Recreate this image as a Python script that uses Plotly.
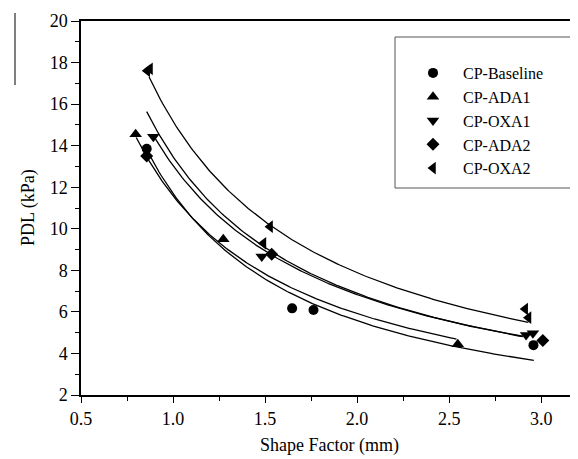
import numpy as np
import plotly.graph_objects as go

# ---------------- data ----------------
series_names = ["CP-Baseline", "CP-ADA1", "CP-OXA1", "CP-ADA2", "CP-OXA2"]
series_symbols = ["circle", "triangle-up", "triangle-down", "diamond", "triangle-left"]

baseline_x = [0.857, 1.647, 1.763, 2.958]
baseline_y = [13.85, 6.17, 6.09, 4.40]

ada1_x = [0.797, 1.273, 2.547]
ada1_y = [14.55, 9.49, 4.44]

oxa1_x = [0.893, 1.482, 2.918, 2.955]
oxa1_y = [14.43, 8.66, 4.89, 4.97]

ada2_x = [0.857, 1.536, 3.009]
ada2_y = [13.50, 8.77, 4.62]

oxa2_x = [0.860, 0.875, 1.491, 1.527, 2.913, 2.931]
oxa2_y = [17.60, 17.70, 9.30, 10.10, 6.14, 5.72]

# power-law fit curves  y = a * x^b  (parameters)
fit_a = [11.70, 11.59, 13.04, 13.47, 15.17]
fit_b = [-1.070, -0.970, -0.933, -0.968, -0.944]
fit_xmin = [0.86, 0.80, 0.90, 0.857, 0.87]
fit_xmax = [2.96, 2.54, 2.90, 2.90, 2.93]

x_ticks = [0.5, 1.0, 1.5, 2.0, 2.5, 3.0]
y_ticks = [2, 4, 6, 8, 10, 12, 14, 16, 18, 20]

xs = [baseline_x, ada1_x, oxa1_x, ada2_x, oxa2_x]
ys = [baseline_y, ada1_y, oxa1_y, ada2_y, oxa2_y]

FONT = "Liberation Serif"

fig = go.Figure()

# fit lines
for a, b, x0, x1 in zip(fit_a, fit_b, fit_xmin, fit_xmax):
    xx = np.linspace(x0, x1, 200)
    fig.add_trace(go.Scatter(x=xx, y=a * xx ** b, mode="lines",
                             line=dict(color="black", width=1.3),
                             showlegend=False, hoverinfo="skip"))

# markers
for name, sym, x, y in zip(series_names, series_symbols, xs, ys):
    size = 10 if sym in ("circle", "diamond") else 11
    fig.add_trace(go.Scatter(x=x, y=y, mode="markers", name=name,
                             marker=dict(symbol=sym, size=size, color="black",
                                         line=dict(width=0))))

# page has an 8px body margin: figure is offset by 8px
OFF = 8
W, H = 578 - OFF, 459 - OFF
L, R, T, B = 81 - OFF, 0, 21 - OFF, 459 - 395
pw, ph = W - L - R, H - T - B

def px2paper_x(px):  # px in page coordinates
    return (px - OFF - L) / pw

def px2paper_y(py):
    return (H - B - (py - OFF)) / ph

fig.update_layout(
    width=W, height=H,
    margin=dict(l=L, r=R, t=T, b=B, autoexpand=False),
    paper_bgcolor="white", plot_bgcolor="white",
    font=dict(family=FONT, size=18, color="black"),
    showlegend=True,
    legend=dict(x=px2paper_x(403), y=px2paper_y(56), xanchor="left", yanchor="top",
                bgcolor="rgba(0,0,0,0)", borderwidth=0,
                font=dict(family=FONT, size=16, color="black"),
                itemwidth=50, tracegroupgap=0),
    xaxis=dict(range=[0.5, 3.2], tickvals=x_ticks, ticktext=[f"{v:.1f}" for v in x_ticks],
               automargin=False,
               showgrid=False, zeroline=False, showline=True, linecolor="black",
               linewidth=1.5, mirror=True, ticks="outside", ticklen=6, tickwidth=1.2,
               tickcolor="black", ticklabelstandoff=1,
               minor=dict(dtick=0.25, tick0=0.5, ticks="outside", ticklen=4,
                          tickwidth=1.2, tickcolor="black"),
               title=dict(text="Shape Factor (mm)", font=dict(family=FONT, size=18), standoff=10),
               tickfont=dict(family=FONT, size=18)),
    yaxis=dict(range=[2, 20], tickvals=y_ticks, automargin=False,
               showgrid=False, zeroline=False, showline=True, linecolor="black",
               linewidth=1.5, mirror=False, ticks="outside", ticklen=8, tickwidth=1.2,
               tickcolor="black", ticklabelstandoff=0,
               minor=dict(dtick=1, tick0=2, ticks="outside", ticklen=4,
                          tickwidth=1.2, tickcolor="black"),
               tickfont=dict(family=FONT, size=18)),
)

# y-axis title as annotation for exact placement
fig.add_annotation(text="PDL (kPa)", xref="paper", yref="paper",
                   x=px2paper_x(28), y=px2paper_y(208), textangle=-90,
                   showarrow=False, xanchor="center", yanchor="middle",
                   font=dict(family=FONT, size=18, color="black"))

# legend frame
fig.add_shape(type="rect", xref="paper", yref="paper",
              x0=px2paper_x(395), x1=px2paper_x(573),
              y0=px2paper_y(188), y1=px2paper_y(37),
              line=dict(color="#555555", width=1))

# stray vertical line at left in the reference
fig.add_shape(type="line", xref="paper", yref="paper",
              x0=px2paper_x(15), x1=px2paper_x(15),
              y0=px2paper_y(13), y1=px2paper_y(85),
              line=dict(color="black", width=1))

fig.write_html("out.html")
